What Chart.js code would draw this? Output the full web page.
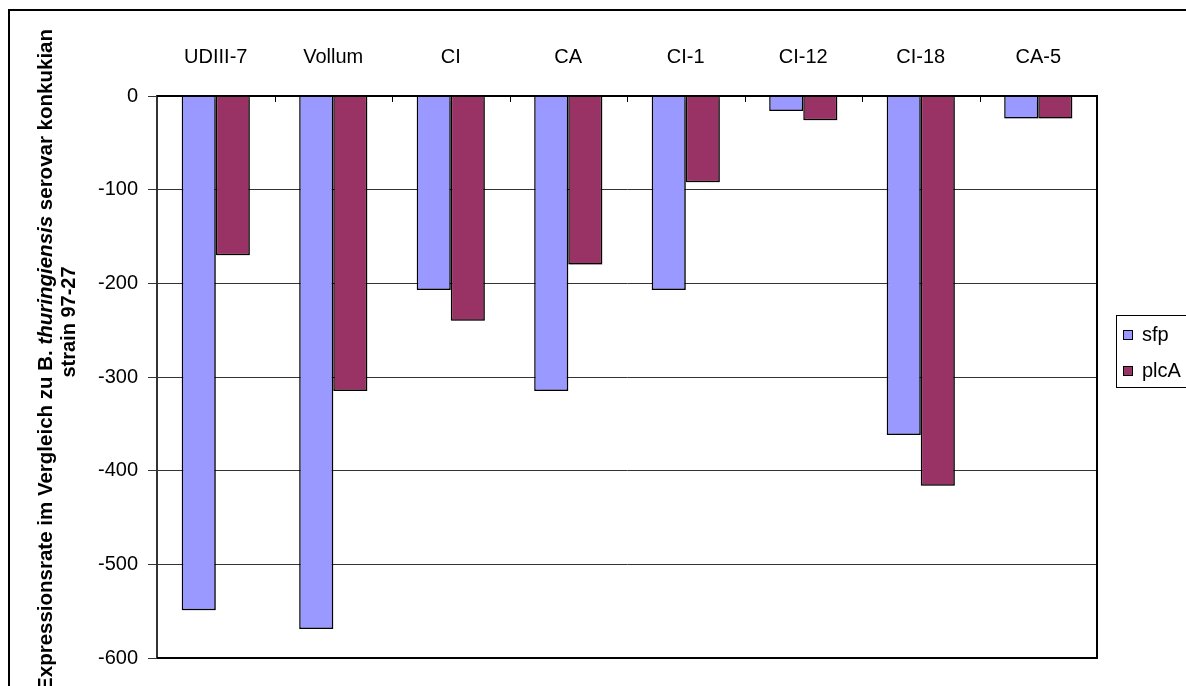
<!DOCTYPE html>
<html>
<head>
<meta charset="utf-8">
<title>Expressionsrate sfp / plcA</title>
<script src="https://cdn.jsdelivr.net/npm/chart.js@4/dist/chart.umd.min.js"></script>
<style>
  html, body { margin: 0; padding: 0; background: #fff; }
  #wrap { width: 1186px; height: 686px; position: relative; }
</style>
</head>
<body>
<div id="wrap"><canvas id="chart" width="1186" height="686"></canvas></div>
<script>
// Data
const categories = ['UDIII-7', 'Vollum', 'CI', 'CA', 'CI-1', 'CI-12', 'CI-18', 'CA-5'];
const sfpValues = [-549, -569, -207, -315, -207, -16, -362, -24];
const plcAValues = [-170, -315, -240, -180, -92, -26, -416, -24];
const yMin = -600;
const yMax = 0;
const yStep = 100;

const FONT = "'Liberation Sans', Arial, sans-serif";

// Outer frame, partly cut by the picture edge
const framePlugin = {
  id: 'frame',
  beforeDraw(chart) {
    const ctx = chart.ctx;
    ctx.save();
    ctx.fillStyle = '#fff';
    ctx.fillRect(0, 0, chart.width, chart.height);
    ctx.strokeStyle = '#000';
    ctx.lineWidth = 2;
    ctx.strokeRect(9, 10, 1200, 720);
    ctx.restore();
  }
};

// Light drop shadow under the bars
const shadowPlugin = {
  id: 'barShadow',
  beforeDatasetsDraw(chart) {
    const ctx = chart.ctx;
    ctx.save();
    ctx.shadowColor = 'rgba(0,0,0,0.3)';
    ctx.shadowOffsetX = 1.5;
    ctx.shadowOffsetY = 1.5;
    ctx.shadowBlur = 1;
  },
  afterDatasetsDraw(chart) {
    chart.ctx.restore();
  }
};

// Plot area border plus inner tick marks on the top category axis
const plotBoxPlugin = {
  id: 'plotBox',
  afterDatasetsDraw(chart) {
    const { ctx, chartArea } = chart;
    const x = chart.scales.x;
    ctx.save();
    ctx.strokeStyle = '#000';
    ctx.lineWidth = 2;
    ctx.beginPath();
    ctx.moveTo(chartArea.left, chartArea.top);
    ctx.lineTo(chartArea.right, chartArea.top);
    ctx.lineTo(chartArea.right, chartArea.bottom);
    ctx.lineTo(chartArea.left, chartArea.bottom);
    ctx.stroke();

    ctx.lineWidth = 1;
    ctx.beginPath();
    const n = categories.length;
    for (let i = 1; i < n; i++) {
      const px = Math.round((x.getPixelForValue(i - 1) + x.getPixelForValue(i)) / 2) + 0.5;
      ctx.moveTo(px, chartArea.top);
      ctx.lineTo(px, chartArea.top + 6);
    }
    ctx.stroke();
    ctx.restore();
  }
};

// Rotated y title with an italic species name
const yTitlePlugin = {
  id: 'yTitle',
  afterDraw(chart) {
    const ctx = chart.ctx;
    const line1 = [
      { t: 'Expressionsrate im Vergleich zu B. ', it: false },
      { t: 'thuringiensis', it: true },
      { t: ' serovar konkukian', it: false }
    ];
    const line2 = 'strain 97-27';
    const size = 20.5;
    const fontOf = it => (it ? 'italic ' : '') + 'bold ' + size + 'px ' + FONT;

    let w1 = 0;
    line1.forEach(s => { ctx.font = fontOf(s.it); s.w = ctx.measureText(s.t).width; w1 += s.w; });
    const topEnd = 29;
    const cy = topEnd + w1 / 2;

    ctx.save();
    ctx.fillStyle = '#000';
    ctx.textBaseline = 'middle';
    ctx.translate(46, cy);
    ctx.rotate(-Math.PI / 2);
    let cx = -w1 / 2;
    ctx.textAlign = 'left';
    line1.forEach(s => {
      ctx.font = fontOf(s.it);
      ctx.fillText(s.t, cx, 0);
      cx += s.w;
    });
    ctx.restore();

    ctx.save();
    ctx.fillStyle = '#000';
    ctx.textBaseline = 'middle';
    ctx.textAlign = 'center';
    ctx.font = 'bold 20px ' + FONT;
    ctx.translate(69, 322);
    ctx.rotate(-Math.PI / 2);
    ctx.fillText(line2, 0, 0);
    ctx.restore();
  }
};

// Boxed legend on the right
const legendPlugin = {
  id: 'boxLegend',
  afterDraw(chart) {
    const ctx = chart.ctx;
    ctx.save();
    ctx.strokeStyle = '#000';
    ctx.lineWidth = 1;
    ctx.strokeRect(1116.5, 315.5, 100, 72);
    ctx.font = '20px ' + FONT;
    ctx.textBaseline = 'middle';
    ctx.textAlign = 'left';
    chart.data.datasets.forEach((ds, i) => {
      const y = 335 + i * 36;
      ctx.fillStyle = ds.backgroundColor;
      ctx.fillRect(1123, y - 5, 10, 10);
      ctx.strokeStyle = '#000';
      ctx.strokeRect(1123.5, y - 4.5, 9, 9);
      ctx.fillStyle = '#000';
      ctx.fillText(ds.label, 1142, y);
    });
    ctx.restore();
  }
};

new Chart(document.getElementById('chart'), {
  type: 'bar',
  data: {
    labels: categories,
    datasets: [
      {
        label: 'sfp',
        data: sfpValues,
        backgroundColor: '#9999FF',
        borderColor: '#000',
        borderWidth: 1.5,
        borderSkipped: 'start'
      },
      {
        label: 'plcA',
        data: plcAValues,
        backgroundColor: '#993366',
        borderColor: '#000',
        borderWidth: 1.5,
        borderSkipped: 'start'
      }
    ]
  },
  options: {
    responsive: false,
    animation: false,
    layout: {
      padding: { left: 0, top: 0, right: 89, bottom: 28 }
    },
    categoryPercentage: 0.58,
    barPercentage: 1.0,
    plugins: {
      legend: { display: false },
      tooltip: { enabled: false }
    },
    scales: {
      x: {
        position: 'top',
        grid: { display: false, drawTicks: false },
        border: { display: false },
        ticks: {
          color: '#000',
          font: { family: FONT, size: 20 },
          padding: 27,
          maxRotation: 0
        },
        afterFit(scale) { scale.height = 96; }
      },
      y: {
        min: yMin,
        max: yMax,
        ticks: {
          stepSize: yStep,
          color: '#000',
          font: { family: FONT, size: 20 },
          padding: 10
        },
        grid: {
          color: '#333',
          lineWidth: 1,
          drawTicks: true,
          tickLength: 9,
          tickColor: '#333'
        },
        border: { display: true, color: '#333', width: 2 },
        afterFit(scale) { scale.width = 157; }
      }
    }
  },
  plugins: [framePlugin, shadowPlugin, plotBoxPlugin, yTitlePlugin, legendPlugin]
});
</script>
</body>
</html>
